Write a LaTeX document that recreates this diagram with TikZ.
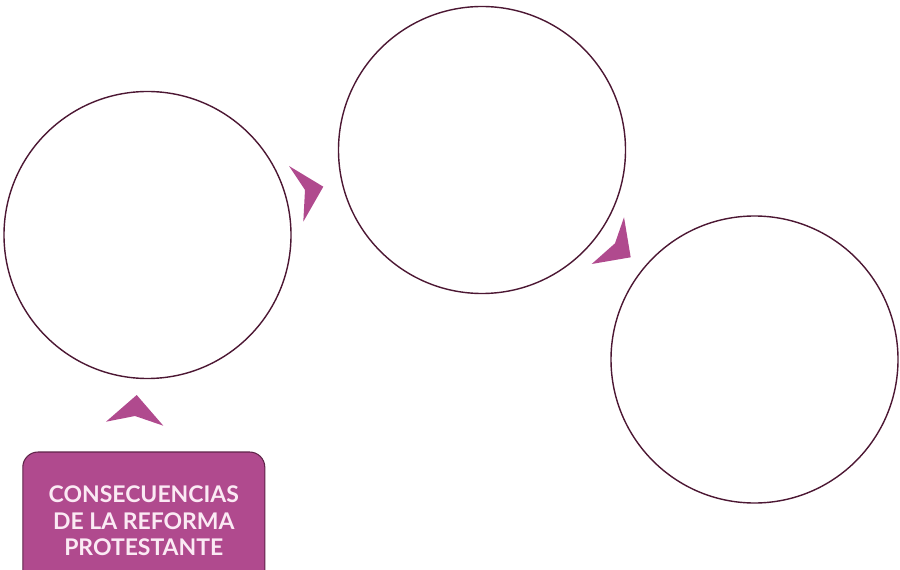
\documentclass[tikz,border=0pt]{standalone}
\usepackage{fontspec}
\setmainfont{Lato}
\usetikzlibrary{positioning, calc}
\definecolor{plum}{HTML}{B04A8E}
\definecolor{darkplum}{HTML}{4C1733}
\definecolor{boxedge}{HTML}{5E2348}
\definecolor{paletext}{HTML}{FBEAF4}
\tikzset{
  ring/.style={circle, draw=darkplum, line width=1.2pt, minimum size=287*0.03cm, inner sep=0pt},
  titlebox/.style={rectangle, rounded corners=13pt, draw=boxedge, line width=0.9pt, fill=plum,
    minimum width=242*0.03cm, minimum height=138*0.03cm, align=center,
    text=paletext, font=\bfseries\fontsize{19.6}{22.7}\selectfont},
  tip/.style={fill=plum, draw=none}
}
\begin{document}
\begin{tikzpicture}[x=0.03cm, y=-0.03cm]
        \useasboundingbox (0,0) rectangle (900,570);
        % the three empty circles
        \node[ring] (first) at (147.5,235) {};
        \node[ring] (second) at (482,150) {};
        \node[ring] (third) at (754.5,359.5) {};
        % title box
        \node[titlebox] (title) at (143.8,521) {CONSECUENCIAS\\DE LA REFORMA\\PROTESTANTE};
        % arrowheads between the shapes
        \fill[tip] (106,421.7) -- (136.7,395) -- (163.3,425.7) -- (135,416) -- cycle;
        \fill[tip] (289,166) -- (323.3,186.7) -- (303.3,221.7) -- (305,190) -- cycle;
        \fill[tip] (624,217.3) -- (630.7,257.3) -- (591.7,264) -- (615,243.3) -- cycle;
    \end{tikzpicture}
\end{document}
